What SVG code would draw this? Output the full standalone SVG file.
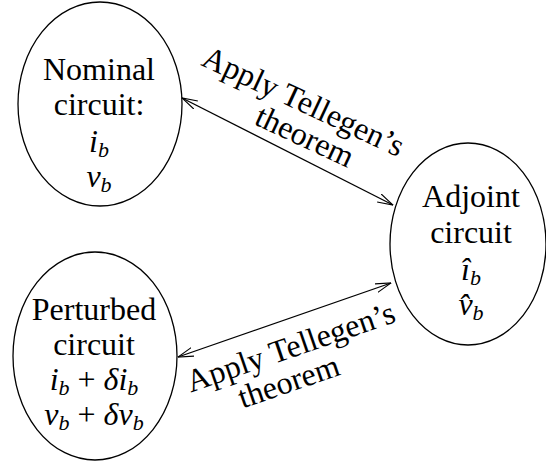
<svg xmlns="http://www.w3.org/2000/svg" width="546" height="464" viewBox="0 0 546 464">
  <style>
    .node { fill: none; stroke: #000; stroke-width: 1.3; }
    .edge { stroke: #000; stroke-width: 1.3; fill: none; marker-start: url(#head); marker-end: url(#head); }
  </style>
  <defs>
    <!-- open V arrowhead used at both ends of each connector -->
    <marker id="head" viewBox="0 0 16 10" refX="15.5" refY="5" markerWidth="16" markerHeight="10" markerUnits="userSpaceOnUse" orient="auto-start-reverse">
      <path d="M0,0.5 L15.5,5 L0,9.5" fill="none" stroke="#000" stroke-width="1.1"/>
    </marker>
  </defs>

  <rect width="546" height="464" fill="#fff"/>

  <g id="edges">
    <line class="edge" x1="182" y1="98" x2="393" y2="205"/>
    <line class="edge" x1="391" y1="283" x2="178" y2="357"/>
  </g>
  <g id="edge-labels" fill="#000">
    <text font-family="'Liberation Serif', 'Times New Roman', serif" font-size="32" text-anchor="middle" transform="translate(299,111) rotate(25)">Apply Tellegen’s</text>
    <text font-family="'Liberation Serif', 'Times New Roman', serif" font-size="32" text-anchor="middle" transform="translate(299,111) rotate(25)" x="16" y="31">theorem</text>
    <text font-family="'Liberation Serif', 'Times New Roman', serif" font-size="32" text-anchor="middle" transform="translate(294,357) rotate(-19)">Apply Tellegen’s</text>
    <text font-family="'Liberation Serif', 'Times New Roman', serif" font-size="32" text-anchor="middle" transform="translate(294,357) rotate(-19)" x="-13" y="32">theorem</text>
  </g>

  <g id="nominal">
    <ellipse class="node" cx="100" cy="104" rx="82" ry="102"/>
    <text font-family="'Liberation Serif', 'Times New Roman', serif" font-size="32" text-anchor="middle" x="99" y="80">Nominal</text>
    <text font-family="'Liberation Serif', 'Times New Roman', serif" font-size="32" text-anchor="middle" x="99" y="115">circuit:</text>
    <text font-family="'Liberation Serif', 'Times New Roman', serif" font-size="32" text-anchor="middle" x="99" y="152"><tspan font-style="italic">i</tspan><tspan font-style="italic" font-size="22" dy="5">b</tspan></text>
    <text font-family="'Liberation Serif', 'Times New Roman', serif" font-size="32" text-anchor="middle" x="99" y="187"><tspan font-style="italic">v</tspan><tspan font-style="italic" font-size="22" dy="5">b</tspan></text>
  </g>

  <g id="adjoint">
    <ellipse class="node" cx="468" cy="244" rx="78" ry="101"/>
    <text font-family="'Liberation Serif', 'Times New Roman', serif" font-size="32" text-anchor="middle" x="471" y="207">Adjoint</text>
    <text font-family="'Liberation Serif', 'Times New Roman', serif" font-size="32" text-anchor="middle" x="471" y="243">circuit</text>
    <text font-family="'Liberation Serif', 'Times New Roman', serif" font-size="32" text-anchor="middle" x="471" y="280"><tspan font-style="italic">i&#x302;</tspan><tspan font-style="italic" font-size="22" dy="5">b</tspan></text>
    <text font-family="'Liberation Serif', 'Times New Roman', serif" font-size="32" text-anchor="middle" x="471" y="315"><tspan font-style="italic">v&#x302;</tspan><tspan font-style="italic" font-size="22" dy="5">b</tspan></text>
  </g>

  <g id="perturbed">
    <ellipse class="node" cx="95" cy="356" rx="82" ry="104"/>
    <text font-family="'Liberation Serif', 'Times New Roman', serif" font-size="32" text-anchor="middle" x="94" y="320">Perturbed</text>
    <text font-family="'Liberation Serif', 'Times New Roman', serif" font-size="32" text-anchor="middle" x="94" y="355">circuit</text>
    <text font-family="'Liberation Serif', 'Times New Roman', serif" font-size="32" text-anchor="middle" x="94" y="390"><tspan font-style="italic">i</tspan><tspan font-style="italic" font-size="22" dy="5">b</tspan><tspan dy="-5"> + </tspan><tspan font-style="italic">δi</tspan><tspan font-style="italic" font-size="22" dy="5">b</tspan></text>
    <text font-family="'Liberation Serif', 'Times New Roman', serif" font-size="32" text-anchor="middle" x="94" y="425"><tspan font-style="italic">v</tspan><tspan font-style="italic" font-size="22" dy="5">b</tspan><tspan dy="-5"> + </tspan><tspan font-style="italic">δv</tspan><tspan font-style="italic" font-size="22" dy="5">b</tspan></text>
  </g>
</svg>
